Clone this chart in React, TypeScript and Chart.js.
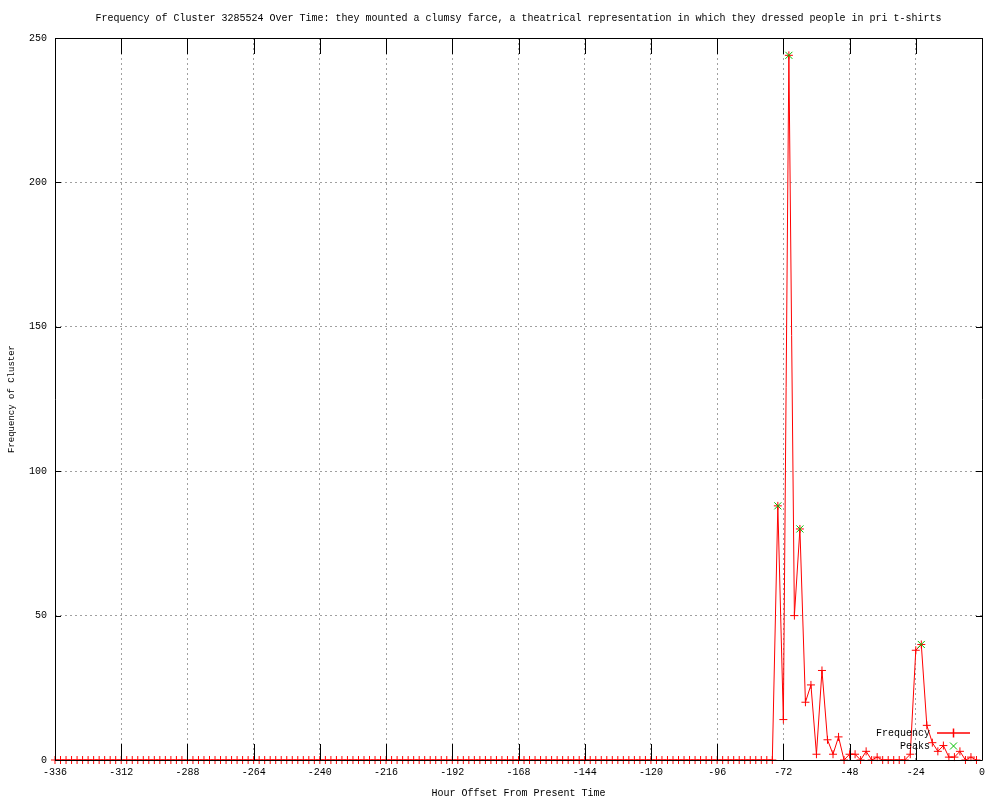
import React, { useEffect, useRef } from "react";
import { Chart, registerables } from "chart.js";

Chart.register(...registerables);

const TITLE =
  "Frequency of Cluster 3285524 Over Time: they mounted a clumsy farce, a theatrical representation in which they dressed people in pri t-shirts";
const X_TITLE = "Hour Offset From Present Time";
const Y_TITLE = "Frequency of Cluster";
const SERIES_LABEL = "Frequency";
const PEAKS_LABEL = "Peaks";

const X_MIN = -336;
const X_MAX = 0;
const X_STEP = 24;
const Y_MIN = 0;
const Y_MAX = 250;
const Y_STEP = 50;

// hour offsets -336 .. -2 (every 2 hours)
const hours: number[] = Array.from({ length: 168 }, (_, i) => -336 + 2 * i);

// frequency values, one per hour offset above
const frequency: number[] = [
  0, 0, 0, 0, 0, 0, 0, 0, 0, 0,
  0, 0, 0, 0, 0, 0, 0, 0, 0, 0,
  0, 0, 0, 0, 0, 0, 0, 0, 0, 0,
  0, 0, 0, 0, 0, 0, 0, 0, 0, 0,
  0, 0, 0, 0, 0, 0, 0, 0, 0, 0,
  0, 0, 0, 0, 0, 0, 0, 0, 0, 0,
  0, 0, 0, 0, 0, 0, 0, 0, 0, 0,
  0, 0, 0, 0, 0, 0, 0, 0, 0, 0,
  0, 0, 0, 0, 0, 0, 0, 0, 0, 0,
  0, 0, 0, 0, 0, 0, 0, 0, 0, 0,
  0, 0, 0, 0, 0, 0, 0, 0, 0, 0,
  0, 0, 0, 0, 0, 0, 0, 0, 0, 0,
  0, 0, 0, 0, 0, 0, 0, 0, 0, 0,
  // -76 .. -2
  0, 88, 14, 244, 50, 80, 20, 26, 2, 31,
  7, 2, 8, 0, 2, 2, 0, 3, 0, 1,
  0, 0, 0, 0, 0, 2, 38, 40, 12, 6,
  3, 5, 1, 1, 3, 0, 1, 0,
];

const peakHours: number[] = [-74, -70, -66, -22];
const peakValues: number[] = [88, 244, 80, 40];

const FONT = "Liberation Mono, DejaVu Sans Mono, monospace";
const RED = "#ff0000";
const GREEN = "#00c000";

const decorPlugin = {
  id: "gnuplotDecor",
  afterDatasetsDraw(chart: any) {
    const ctx: CanvasRenderingContext2D = chart.ctx;
    const { left, right, top, bottom } = chart.chartArea;
    const xs = chart.scales.x;
    const ys = chart.scales.y;
    ctx.save();
    // border
    ctx.strokeStyle = "#000";
    ctx.lineWidth = 1;
    ctx.beginPath();
    ctx.rect(Math.round(left) + 0.5, Math.round(top) + 0.5, Math.round(right - left), Math.round(bottom - top));
    ctx.stroke();
    // inward ticks
    ctx.beginPath();
    for (let v = X_MIN; v <= X_MAX; v += X_STEP) {
      const px = Math.round(xs.getPixelForValue(v)) + 0.5;
      ctx.moveTo(px, bottom);
      ctx.lineTo(px, bottom - 16);
      ctx.moveTo(px, top);
      ctx.lineTo(px, top + 16);
    }
    for (let v = Y_MIN; v <= Y_MAX; v += Y_STEP) {
      const py = Math.round(ys.getPixelForValue(v)) + 0.5;
      ctx.moveTo(left, py);
      ctx.lineTo(left + 6, py);
      ctx.moveTo(right, py);
      ctx.lineTo(right - 6, py);
    }
    ctx.stroke();

    // titles
    ctx.fillStyle = "#000";
    ctx.font = `10px ${FONT}`;
    ctx.textAlign = "center";
    ctx.textBaseline = "middle";
    ctx.fillText(TITLE, (left + right) / 2, 18);
    ctx.fillText(X_TITLE, (left + right) / 2, 793);
    ctx.save();
    ctx.translate(12, (top + bottom) / 2);
    ctx.rotate(-Math.PI / 2);
    ctx.font = `9px ${FONT}`;
    ctx.fillText(Y_TITLE, 0, 0);
    ctx.restore();

    // legend
    ctx.font = `10px ${FONT}`;
    ctx.textAlign = "right";
    const lx = 930;
    const y1 = 733;
    const y2 = 746;
    ctx.fillText(SERIES_LABEL, lx, y1);
    ctx.fillText(PEAKS_LABEL, lx, y2);
    ctx.strokeStyle = RED;
    ctx.lineWidth = 1.5;
    ctx.beginPath();
    ctx.moveTo(937, y1);
    ctx.lineTo(970, y1);
    ctx.moveTo(953.5, y1 - 4.5);
    ctx.lineTo(953.5, y1 + 4.5);
    ctx.stroke();
    ctx.strokeStyle = GREEN;
    ctx.lineWidth = 1;
    ctx.beginPath();
    ctx.moveTo(950, y2 - 3.5);
    ctx.lineTo(957, y2 + 3.5);
    ctx.moveTo(957, y2 - 3.5);
    ctx.lineTo(950, y2 + 3.5);
    ctx.stroke();
    ctx.restore();
  },
};

export default function App() {
  const ref = useRef<HTMLCanvasElement | null>(null);

  useEffect(() => {
    if (!ref.current) return;
    const tickFont = { family: FONT, size: 10 };
    const chart = new Chart(ref.current, {
      type: "line",
      data: {
        datasets: [
          {
            label: PEAKS_LABEL,
            data: peakHours.map((h, i) => ({ x: h, y: peakValues[i] })),
            showLine: false,
            pointStyle: "crossRot",
            pointRadius: 5,
            pointBorderColor: GREEN,
            pointBorderWidth: 1,
            borderColor: GREEN,
            backgroundColor: GREEN,
            clip: false as any,
            order: 0,
          },
          {
            label: SERIES_LABEL,
            data: hours.map((h, i) => ({ x: h, y: frequency[i] })),
            borderColor: RED,
            backgroundColor: RED,
            borderWidth: 1,
            tension: 0,
            pointStyle: "cross",
            pointRadius: 4,
            pointBorderColor: RED,
            pointBorderWidth: 1,
            clip: false as any,
            order: 1,
          },
        ],
      },
      options: {
        responsive: false,
        animation: false,
        events: [],
        layout: { padding: { top: 38, right: 18, left: 0, bottom: 0 } },
        plugins: {
          legend: { display: false },
          tooltip: { enabled: false },
          title: { display: false },
        },
        scales: {
          x: {
            type: "linear",
            min: X_MIN,
            max: X_MAX,
            ticks: {
              stepSize: X_STEP,
              color: "#000",
              font: tickFont,
              padding: 6,
              maxRotation: 0,
              autoSkip: false,
            },
            grid: { color: "#a0a0a0", lineWidth: 1, drawTicks: false },
            border: { display: false, dash: [2, 3] },
            afterFit: (s: any) => {
              s.height = 40;
            },
          },
          y: {
            type: "linear",
            min: Y_MIN,
            max: Y_MAX,
            ticks: {
              stepSize: Y_STEP,
              color: "#000",
              font: tickFont,
              padding: 8,
            },
            grid: { color: "#a0a0a0", lineWidth: 1, drawTicks: false },
            border: { display: false, dash: [2, 3] },
            afterFit: (s: any) => {
              s.width = 55;
            },
          },
        },
      },
      plugins: [decorPlugin],
    });
    return () => chart.destroy();
  }, []);

  return (
    <div style={{ position: "fixed", left: 0, top: 0, width: 1000, height: 800, background: "#fff" }}>
      <canvas ref={ref} width={1000} height={800} style={{ display: "block" }} />
    </div>
  );
}
